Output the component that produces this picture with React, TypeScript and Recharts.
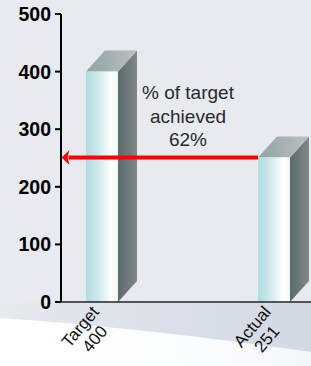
import React from "react";
import { BarChart, Bar, XAxis, YAxis, ReferenceLine } from "recharts";

const categories = ["Target", "Actual"];
const values = [400, 251];
const yTicks = [0, 100, 200, 300, 400, 500];
const annotationLines = ["% of target", "achieved", "62%"];

const data = categories.map((name, i) => ({ name, value: values[i] }));

const W = 311;
const H = 366;
const MARGIN = { top: 14, right: 0, left: 0, bottom: 0 };
const Y_AXIS_WIDTH = 61;
const PLOT_LEFT = MARGIN.left + Y_AXIS_WIDTH;
const BAR_SIZE = 32;
const DEPTH_X = 19;
const DEPTH_Y = 21;
const FONT = "'Liberation Sans', Arial, Helvetica, sans-serif";

const Bar3D = (props: any) => {
  const { x, y, width, height } = props;
  if (width == null || height == null) return null;
  const w = width;
  const h = height;
  return (
    <g>
      <polygon
        points={`${x + w},${y} ${x + w + DEPTH_X},${y - DEPTH_Y} ${x + w + DEPTH_X},${y + h - DEPTH_Y} ${x + w},${y + h}`}
        fill="url(#sideGrad)"
      />
      <polygon
        points={`${x},${y} ${x + DEPTH_X},${y - DEPTH_Y} ${x + w + DEPTH_X},${y - DEPTH_Y} ${x + w},${y}`}
        fill="url(#topGrad)"
      />
      <rect x={x} y={y} width={w} height={h} fill="url(#frontGrad)" />
    </g>
  );
};

const XTick = (props: any) => {
  const { x, y, payload, index } = props;
  const val = values[index];
  return (
    <g transform={`translate(${x - 2},${y + 10}) rotate(-50)`}>
      <text x={-24} y={0} textAnchor="middle" fontSize={17} fontFamily={FONT} fill="#111">
        {payload.value}
      </text>
      <text x={-24} y={19} textAnchor="middle" fontSize={17} fontFamily={FONT} fill="#111">
        {val}
      </text>
    </g>
  );
};

const ArrowShape = (props: any) => {
  const { x1, x2, y1 } = props;
  if (x1 == null || x2 == null) return null;
  const start = x2 - BAR_SIZE / 2;
  const tip = PLOT_LEFT + 0.5;
  const headLen = 8;
  const headHalf = 7.5;
  const mid = (x1 + x2) / 2;
  const lineGap = 23.5;
  return (
    <g>
      <line x1={start} y1={y1} x2={tip + headLen - 1} y2={y1} stroke="#ff0000" strokeWidth={4} />
      <polygon
        points={`${tip},${y1} ${tip + headLen},${y1 - headHalf} ${tip + headLen - 2},${y1} ${tip + headLen},${y1 + headHalf}`}
        fill="#ff0000"
      />
      {annotationLines.map((t, i) => (
        <text
          key={i}
          x={mid}
          y={y1 - 11 - (annotationLines.length - 1 - i) * lineGap}
          textAnchor="middle"
          fontSize={19}
          fontFamily={FONT}
          fill="#2a2a2a"
        >
          {t}
        </text>
      ))}
    </g>
  );
};

export default function App() {
  return (
    <div
      style={{
        position: "absolute",
        left: 0,
        top: 0,
        width: W,
        height: H,
        overflow: "hidden",
        background: "#e7eaef",
      }}
    >
      <svg width={W} height={H} style={{ position: "absolute", left: 0, top: 0 }}>
        <defs>
          <linearGradient id="bandGrad" x1="0" y1="0" x2="1" y2="0">
            <stop offset="0" stopColor="#e6e9ee" />
            <stop offset="1" stopColor="#d2d9e3" />
          </linearGradient>
          <linearGradient id="whiteGrad" x1="0" y1="0" x2="1" y2="0">
            <stop offset="0" stopColor="#ffffff" />
            <stop offset="0.7" stopColor="#fbfcfd" />
            <stop offset="1" stopColor="#f4f6f9" />
          </linearGradient>
        </defs>
        <rect x={0} y={303} width={W} height={H - 303} fill="url(#bandGrad)" />
        <path d={`M0,318 C90,324 200,336 ${W},352 L${W},${H} L0,${H} Z`} fill="url(#whiteGrad)" />
      </svg>
      <div style={{ position: "absolute", left: 0, top: 0 }}>
        <BarChart width={W} height={H} data={data} margin={MARGIN} barSize={BAR_SIZE}>
          <defs>
            <linearGradient id="frontGrad" x1="0" y1="0" x2="1" y2="0">
              <stop offset="0" stopColor="#afdcdf" />
              <stop offset="0.35" stopColor="#cbe8ea" />
              <stop offset="0.8" stopColor="#ffffff" />
              <stop offset="1" stopColor="#f3f6f6" />
            </linearGradient>
            <linearGradient id="sideGrad" x1="0" y1="0" x2="1" y2="0">
              <stop offset="0" stopColor="#586b6b" />
              <stop offset="1" stopColor="#858787" />
            </linearGradient>
            <linearGradient id="topGrad" x1="0" y1="0" x2="1" y2="0">
              <stop offset="0" stopColor="#8ea4a2" />
              <stop offset="1" stopColor="#bcc1c1" />
            </linearGradient>
          </defs>
          <XAxis
            dataKey="name"
            padding={{ left: -45, right: -49 }}
            axisLine={{ stroke: "#222", strokeWidth: 1.5 }}
            tickLine={false}
            tickSize={0}
            tickMargin={0}
            height={64}
            interval={0}
            tick={<XTick />}
          />
          <YAxis
            width={Y_AXIS_WIDTH}
            domain={[0, 500]}
            ticks={yTicks}
            interval={0}
            axisLine={{ stroke: "#000", strokeWidth: 2 }}
            tickLine={{ stroke: "#000", strokeWidth: 2 }}
            tickSize={6}
            tickMargin={4}
            tick={{ fill: "#000", fontSize: 19.5, fontWeight: 700, fontFamily: FONT }}
          />
          <Bar dataKey="value" shape={<Bar3D />} isAnimationActive={false} />
          <ReferenceLine
            segment={[
              { x: categories[0], y: values[1] },
              { x: categories[1], y: values[1] },
            ]}
            shape={<ArrowShape />}
            ifOverflow="visible"
          />
        </BarChart>
      </div>
    </div>
  );
}
